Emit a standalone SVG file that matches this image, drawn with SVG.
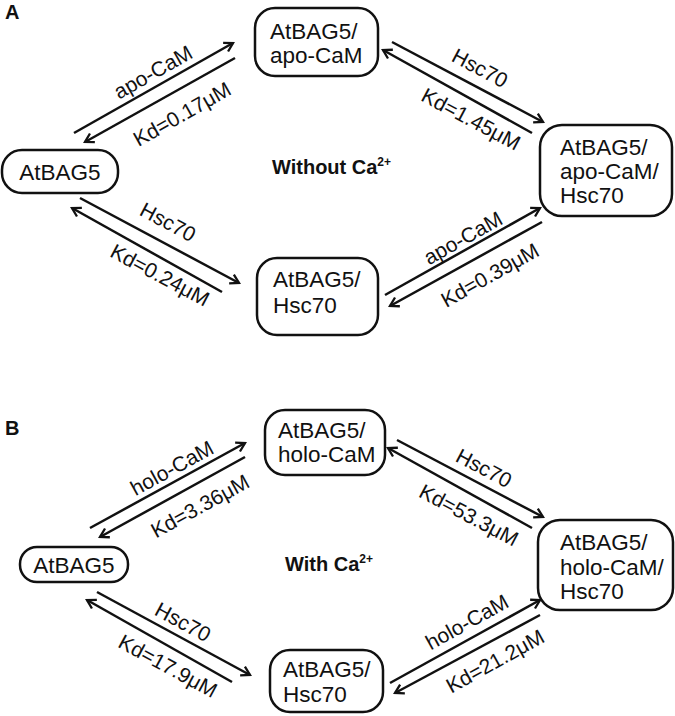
<svg xmlns="http://www.w3.org/2000/svg" width="675" height="716" viewBox="0 0 675 716">
<style>
.box{fill:#fff;stroke:#111;stroke-width:2.5}
.nt{font-family:"Liberation Sans",Arial,sans-serif;font-size:22.5px;fill:#111}
.lb{font-family:"Liberation Sans",Arial,sans-serif;font-size:21px;fill:#111;text-anchor:middle}
.bd{font-family:"Liberation Sans",Arial,sans-serif;font-weight:bold;fill:#111}
.ar{stroke:#111;stroke-width:2.5;fill:none;marker-end:url(#ah)}
</style>
<defs>
<marker id="ah" viewBox="0 0 12 12" refX="10" refY="6" markerWidth="12" markerHeight="12" markerUnits="userSpaceOnUse" orient="auto">
<path d="M1.5,1 L10,6 L1.5,11" fill="none" stroke="#111" stroke-width="2.3"/>
</marker>
</defs>
<rect width="675" height="716" fill="#fff"/>
<text class="bd" x="5" y="19" font-size="20">A</text>
<text class="bd" x="5" y="435" font-size="20">B</text>
<text class="bd" x="272" y="174" font-size="20">Without Ca<tspan font-size="12" dy="-8">2+</tspan></text>
<text class="bd" x="285" y="571" font-size="20">With Ca<tspan font-size="12" dy="-8">2+</tspan></text>

<g id="connectors">
<line class="ar" x1="74" y1="133" x2="233" y2="43"/>
<line class="ar" x1="235" y1="58" x2="85" y2="142"/>
<line class="ar" x1="392" y1="42" x2="543" y2="122"/>
<line class="ar" x1="532" y1="133" x2="383" y2="50"/>
<line class="ar" x1="80" y1="198" x2="239" y2="283"/>
<line class="ar" x1="222" y1="292" x2="72" y2="208"/>
<line class="ar" x1="385" y1="295" x2="540" y2="208"/>
<line class="ar" x1="542" y1="222" x2="390" y2="306"/>
<line class="ar" x1="90" y1="528" x2="245" y2="443"/>
<line class="ar" x1="245" y1="457" x2="100" y2="537"/>
<line class="ar" x1="397" y1="440" x2="543" y2="517"/>
<line class="ar" x1="532" y1="528" x2="388" y2="448"/>
<line class="ar" x1="97" y1="592" x2="250" y2="675"/>
<line class="ar" x1="232" y1="682" x2="87" y2="600"/>
<line class="ar" x1="390" y1="683" x2="540" y2="600"/>
<line class="ar" x1="540" y1="615" x2="395" y2="693"/>
<text class="lb" transform="translate(153,72) rotate(-29.5)" dy="0.35em">apo-CaM</text>
<text class="lb" transform="translate(182,114) rotate(-29.5)" dy="0.35em">Kd=0.17μM</text>
<text class="lb" transform="translate(480,68) rotate(28)" dy="0.35em">Hsc70</text>
<text class="lb" transform="translate(471,119) rotate(28)" dy="0.35em">Kd=1.45μM</text>
<text class="lb" transform="translate(168,222) rotate(28)" dy="0.35em">Hsc70</text>
<text class="lb" transform="translate(160,275) rotate(28)" dy="0.35em">Kd=0.24μM</text>
<text class="lb" transform="translate(463,238) rotate(-29.3)" dy="0.35em">apo-CaM</text>
<text class="lb" transform="translate(490,275) rotate(-29.3)" dy="0.35em">Kd=0.39μM</text>
<text class="lb" transform="translate(172,468) rotate(-28.7)" dy="0.35em">holo-CaM</text>
<text class="lb" transform="translate(200,506) rotate(-28.7)" dy="0.35em">Kd=3.36μM</text>
<text class="lb" transform="translate(484,468) rotate(27.8)" dy="0.35em">Hsc70</text>
<text class="lb" transform="translate(469,515) rotate(27.8)" dy="0.35em">Kd=53.3μM</text>
<text class="lb" transform="translate(183,622) rotate(28.5)" dy="0.35em">Hsc70</text>
<text class="lb" transform="translate(168,666) rotate(28.5)" dy="0.35em">Kd=17.9μM</text>
<text class="lb" transform="translate(467,622) rotate(-29)" dy="0.35em">holo-CaM</text>
<text class="lb" transform="translate(495,661) rotate(-29)" dy="0.35em">Kd=21.2μM</text>
</g>

<g id="a-atbag5">
<rect class="box" x="2" y="150" width="116" height="43" rx="20"/>
<text class="nt" x="60" y="180" text-anchor="middle" font-size="23.5">AtBAG5</text>
</g>
<g id="a-atbag5-apocam">
<rect class="box" x="255" y="8" width="123" height="68" rx="20"/>
<text class="nt" x="270" y="39">AtBAG5/</text>
<text class="nt" x="270" y="63">apo-CaM</text>
</g>
<g id="a-atbag5-apocam-hsc70">
<rect class="box" x="540" y="125" width="132" height="91" rx="22"/>
<text class="nt" x="560" y="155">AtBAG5/</text>
<text class="nt" x="560" y="179">apo-CaM/</text>
<text class="nt" x="560" y="203">Hsc70</text>
</g>
<g id="a-atbag5-hsc70">
<rect class="box" x="257" y="258" width="121" height="77" rx="20"/>
<text class="nt" x="273" y="287">AtBAG5/</text>
<text class="nt" x="273" y="313">Hsc70</text>
</g>

<g id="b-atbag5">
<rect class="box" x="20" y="547" width="108" height="35" rx="17"/>
<text class="nt" x="74" y="573" text-anchor="middle" font-size="23.5">AtBAG5</text>
</g>
<g id="b-atbag5-holocam">
<rect class="box" x="265" y="410" width="120" height="65" rx="20"/>
<text class="nt" x="278" y="438">AtBAG5/</text>
<text class="nt" x="278" y="462">holo-CaM</text>
</g>
<g id="b-atbag5-holocam-hsc70">
<rect class="box" x="538" y="520" width="135" height="90" rx="22"/>
<text class="nt" x="560" y="550">AtBAG5/</text>
<text class="nt" x="560" y="575">holo-CaM/</text>
<text class="nt" x="560" y="599">Hsc70</text>
</g>
<g id="b-atbag5-hsc70">
<rect class="box" x="270" y="650" width="113" height="62" rx="20"/>
<text class="nt" x="283" y="677">AtBAG5/</text>
<text class="nt" x="283" y="702">Hsc70</text>
</g>
</svg>
